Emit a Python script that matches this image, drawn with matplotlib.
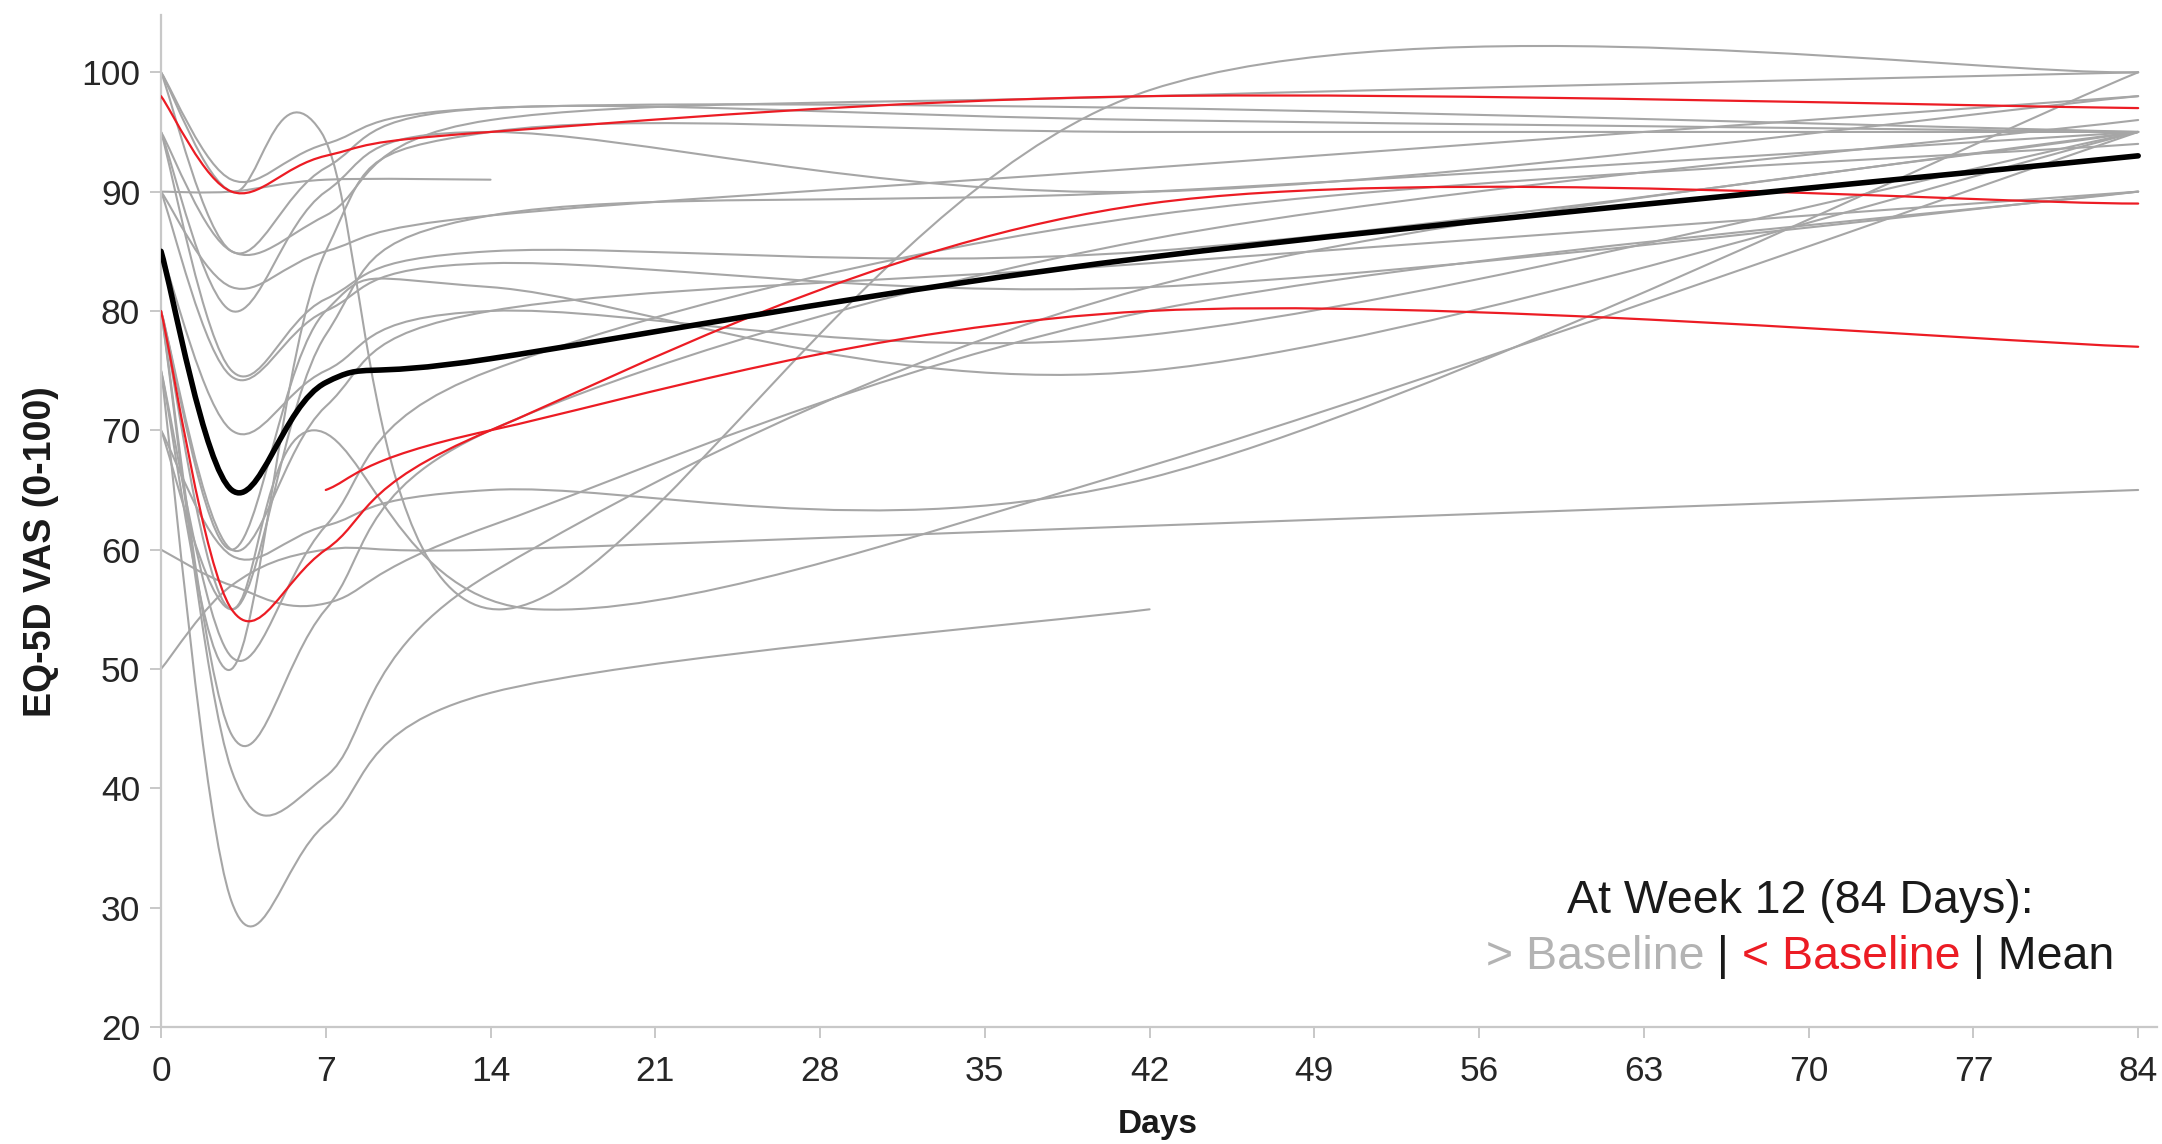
import numpy as np
import matplotlib
matplotlib.use("Agg")
import matplotlib.pyplot as plt
from matplotlib.path import Path
from matplotlib.patches import PathPatch

# Visit schedule (days) and EQ-5D VAS scores per patient
visit_days = [0, 3, 7, 14, 42, 84]

gray_days = [
    [0, 3, 6.8, 14.5, 42, 84],
    visit_days,
    [0, 3, 7, 14],
    visit_days,
    visit_days,
    visit_days,
    visit_days,
    visit_days,
    [0, 3, 6.5, 16, 42, 84],
    visit_days,
    [0, 3, 7, 14, 42],
    visit_days,
    visit_days,
    visit_days,
    visit_days,
    visit_days,
    visit_days,
    visit_days,
    visit_days,
    visit_days,
    visit_days,
    visit_days,
]
gray_values = [
    [100, 90, 95, 55, 98.5, 100],
    [100, 91, 94, 97, 97, 95],
    [90, 90, 91, 91],
    [95, 85, 88, 96, 98, 100],
    [90, 82, 85, 88, 92, 98],
    [95, 75, 81, 85, 85, 95],
    [90, 74.5, 80, 84, 82, 90],
    [80, 60, 80, 82, 75, 95],
    [70, 55, 70, 55, 67, 95],
    [80, 41.5, 41, 58, 82, 95],
    [75, 30.5, 37, 48, 55],
    [80, 44.5, 55, 70, 86, 96],
    [75, 51, 62, 75, 88, 94],
    [60, 57, 55.5, 62, 80, 90],
    [50, 57, 60, 60, 62, 65],
    [70, 59.5, 62, 65, 66, 100],
    [80, 55, 78, 88, 90, 95],
    [75, 50, 85, 95, 95, 95],
    [95, 80, 90, 95, 90, 98],
    [100, 85, 92, 97, 96, 95],
    [80, 60, 72, 80, 84, 90],
    [85, 70, 75, 80, 78, 95],
]

red_days = [
    visit_days,
    visit_days,
    [7, 14, 42, 84],
]
red_values = [
    [98, 90, 93, 95, 98, 97],
    [80, 55, 60, 70, 89, 89],
    [65, 70, 80, 77],
]

mean_days = visit_days
mean_values = [85, 65, 74, 76, 84.5, 93]

x_ticks = list(range(0, 85, 7))
y_ticks = list(range(20, 101, 10))

GRAY = "#a6a6a6"
RED = "#ec1c24"
BLACK = "#000000"


def smooth_path(xs, ys):
    """Smoothed line through the points, built from cubic Bezier segments."""
    pts = np.column_stack([xs, ys]).astype(float)
    n = len(pts)
    verts = [pts[0]]
    codes = [Path.MOVETO]
    for i in range(n - 1):
        p_prev = pts[i - 1] if i > 0 else pts[i]
        p_after = pts[i + 2] if i + 2 < n else pts[i + 1]
        c1 = pts[i] + (pts[i + 1] - p_prev) / 6.0
        c2 = pts[i + 1] - (p_after - pts[i]) / 6.0
        verts += [c1, c2, pts[i + 1]]
        codes += [Path.CURVE4] * 3
    return Path(verts, codes)


plt.rcParams["font.family"] = ["Liberation Sans", "DejaVu Sans"]

W, H = 2162, 1144
fig = plt.figure(figsize=(W / 100, H / 100), dpi=100)
x0, x1 = 161, 2157
y_top, y_bot = 15, 1027
ax = fig.add_axes([x0 / W, 1 - y_bot / H, (x1 - x0) / W, (y_bot - y_top) / H])

for xs, ys in zip(gray_days, gray_values):
    ax.add_patch(PathPatch(smooth_path(xs, ys), fill=False, edgecolor=GRAY,
                           lw=1.5, capstyle="round", joinstyle="round", zorder=2))
for xs, ys in zip(red_days, red_values):
    ax.add_patch(PathPatch(smooth_path(xs, ys), fill=False, edgecolor=RED,
                           lw=1.6, capstyle="round", joinstyle="round", zorder=3))
ax.add_patch(PathPatch(smooth_path(mean_days, mean_values), fill=False,
                       edgecolor=BLACK, lw=4.0, capstyle="round",
                       joinstyle="round", zorder=4))

ax.set_xlim(0, 84.8)
ax.set_ylim(20, 104.8)
ax.set_xticks(x_ticks)
ax.set_yticks(y_ticks)

for side in ("top", "right"):
    ax.spines[side].set_visible(False)
for side in ("left", "bottom"):
    ax.spines[side].set_color("#c8c8c8")
    ax.spines[side].set_linewidth(1.6)

ax.tick_params(axis="both", colors="#c8c8c8", width=1.4, length=8,
               labelcolor="#262626", labelsize=25.5)
ax.tick_params(axis="x", pad=12)
ax.tick_params(axis="y", pad=7)

fig.text(41 / W, 1 - 552 / H, "EQ-5D VAS (0-100)", rotation=90, ha="center",
         va="center", fontsize=27, fontweight="bold", color="#1a1a1a")
fig.text(1158 / W, 1 - 1124 / H, "Days", ha="center", va="center",
         fontsize=24, fontweight="bold", color="#1a1a1a")

# Annotation block in the lower right
center_px = 1800
fig.text(center_px / W, 1 - 901 / H, "At Week 12 (84 Days):", ha="center",
         va="center", fontsize=33.5, color="#1a1a1a")

pieces = [("> Baseline", "#b3b3b3"), (" | ", "#1a1a1a"),
          ("< Baseline", RED), (" | Mean", "#1a1a1a")]
renderer = fig.canvas.get_renderer()
texts = []
cursor = 0.0
for s, c in pieces:
    t = fig.text(0, 1 - 957 / H, s, ha="left", va="center", fontsize=33.5,
                 color=c)
    bb = t.get_window_extent(renderer=renderer)
    texts.append((t, cursor))
    cursor += bb.width
start = center_px - cursor / 2
for t, off in texts:
    t.set_x((start + off) / W)

fig.savefig("out.png", dpi=100, facecolor="white")
